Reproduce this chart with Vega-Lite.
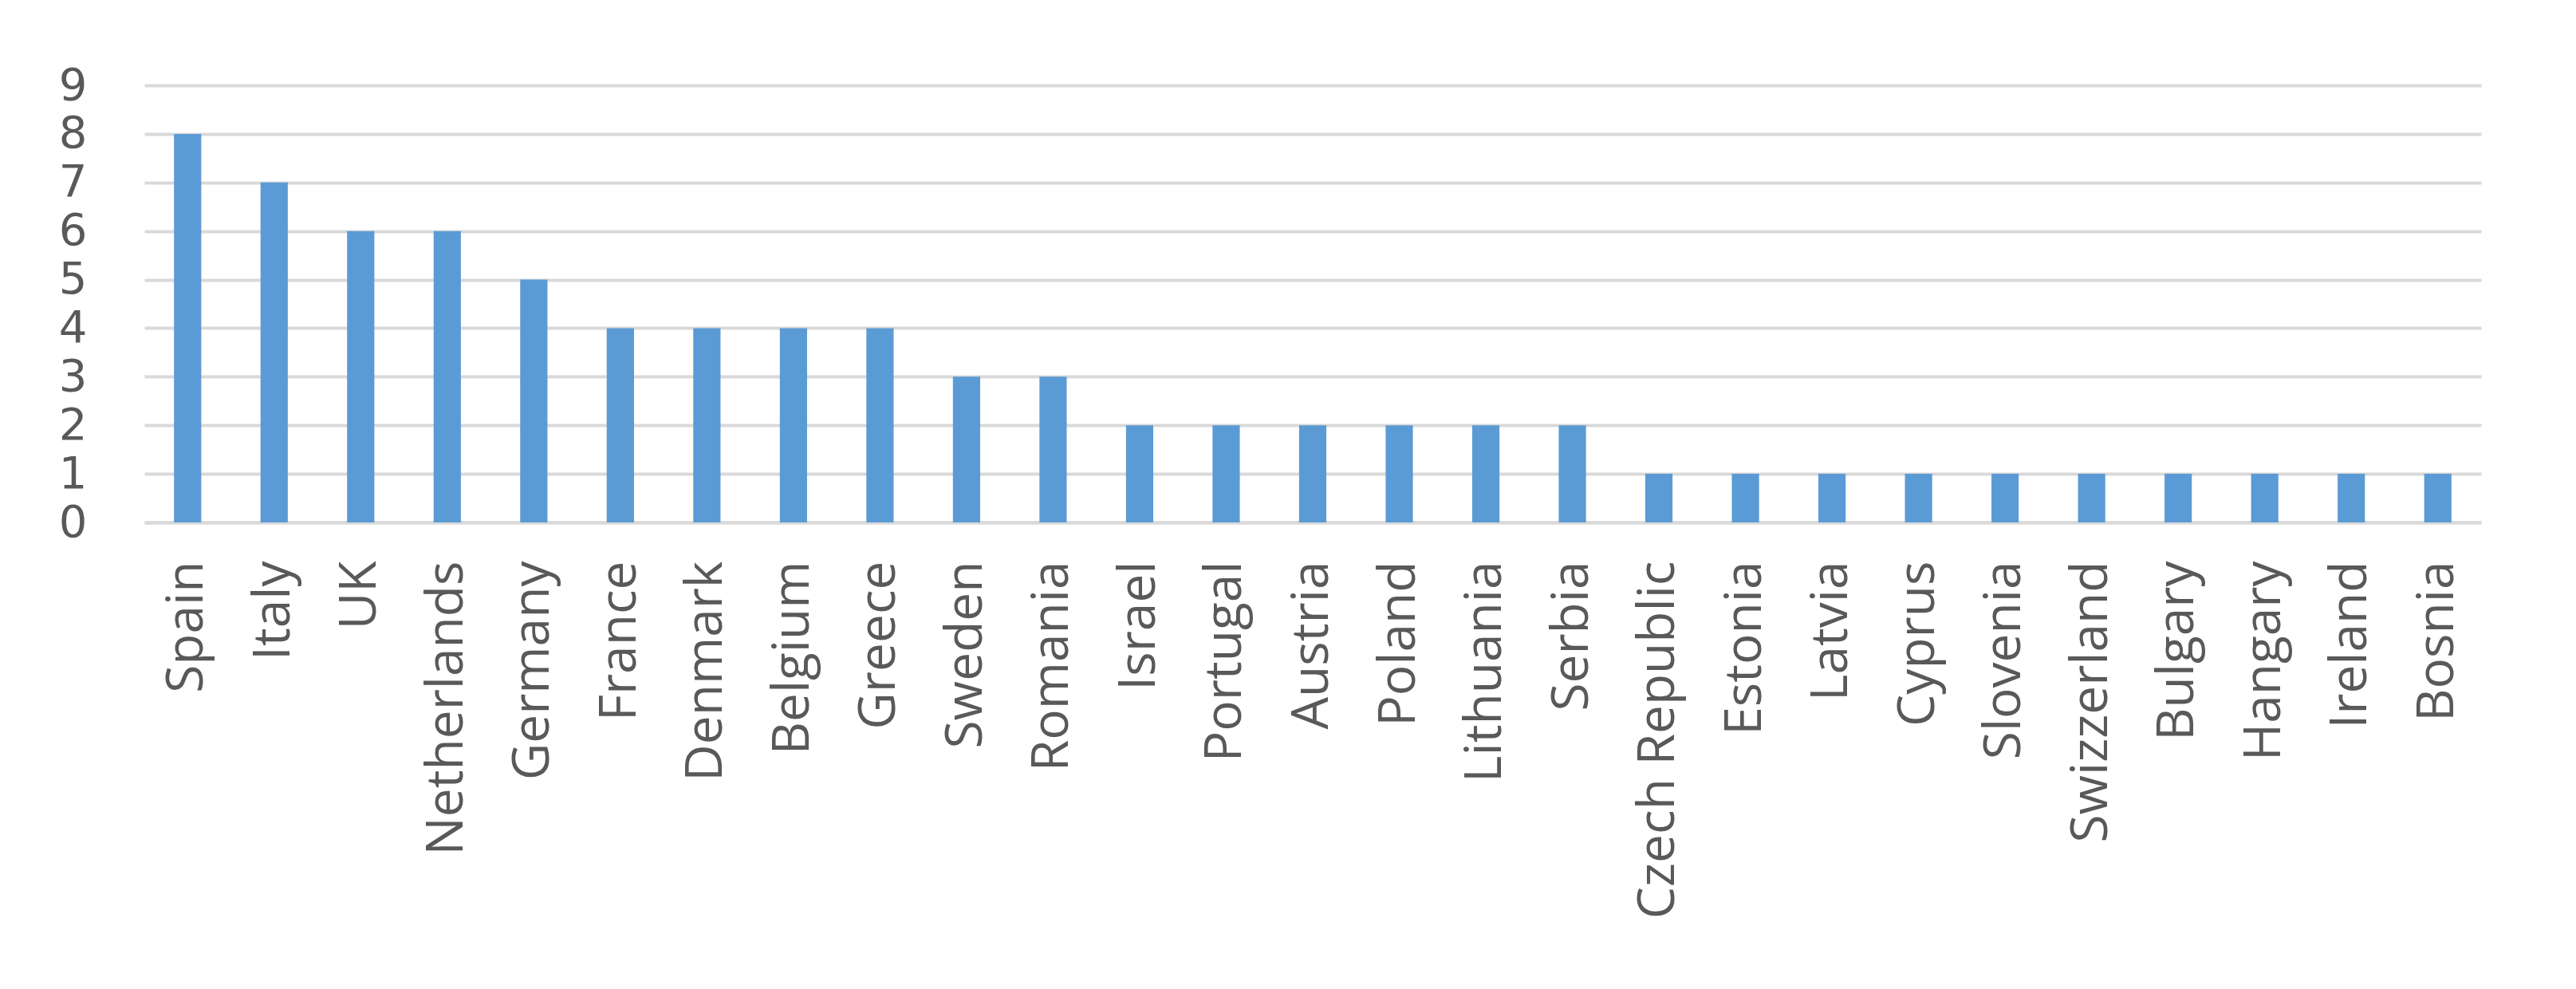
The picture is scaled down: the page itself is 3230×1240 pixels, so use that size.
{
  "$schema": "https://vega.github.io/schema/vega-lite/v6.json",
  "autosize": "none",
  "padding": {"left": 181, "top": 107, "right": 119, "bottom": 585},
  "width": 2930,
  "height": 548,
  "background": "white",
  "data": {
    "values": [
      {"country": "Spain", "count": 8},
      {"country": "Italy", "count": 7},
      {"country": "UK", "count": 6},
      {"country": "Netherlands", "count": 6},
      {"country": "Germany", "count": 5},
      {"country": "France", "count": 4},
      {"country": "Denmark", "count": 4},
      {"country": "Belgium", "count": 4},
      {"country": "Greece", "count": 4},
      {"country": "Sweden", "count": 3},
      {"country": "Romania", "count": 3},
      {"country": "Israel", "count": 2},
      {"country": "Portugal", "count": 2},
      {"country": "Austria", "count": 2},
      {"country": "Poland", "count": 2},
      {"country": "Lithuania", "count": 2},
      {"country": "Serbia", "count": 2},
      {"country": "Czech Republic", "count": 1},
      {"country": "Estonia", "count": 1},
      {"country": "Latvia", "count": 1},
      {"country": "Cyprus", "count": 1},
      {"country": "Slovenia", "count": 1},
      {"country": "Swizzerland", "count": 1},
      {"country": "Bulgary", "count": 1},
      {"country": "Hangary", "count": 1},
      {"country": "Ireland", "count": 1},
      {"country": "Bosnia", "count": 1}
    ]
  },
  "mark": {"type": "bar", "color": "#5b9bd5"},
  "encoding": {
    "x": {
      "field": "country",
      "type": "nominal",
      "sort": null,
      "scale": {"paddingInner": 0.685, "paddingOuter": 0.3425},
      "axis": {
        "title": null,
        "labelAngle": -90,
        "labelFont": "Open Sans",
        "labelFontSize": 64,
        "labelColor": "#595959",
        "labelPadding": 48,
        "labelLimit": 0,
        "ticks": false,
        "domainColor": "#d9d9d9",
        "domainWidth": 4,
        "labelOverlap": false,
        "labelBound": false
      }
    },
    "y": {
      "field": "count",
      "type": "quantitative",
      "scale": {"domain": [0, 9], "nice": false},
      "axis": {
        "title": null,
        "values": [0, 1, 2, 3, 4, 5, 6, 7, 8, 9],
        "labelFont": "DejaVu Sans",
        "labelFontSize": 56,
        "labelColor": "#595959",
        "labelPadding": 72,
        "ticks": false,
        "domain": false,
        "gridColor": "#d9d9d9",
        "gridWidth": 4,
        "labelOverlap": false
      }
    }
  },
  "config": {
    "view": {"stroke": null},
    "axis": {"labelFlush": false}
  }
}
